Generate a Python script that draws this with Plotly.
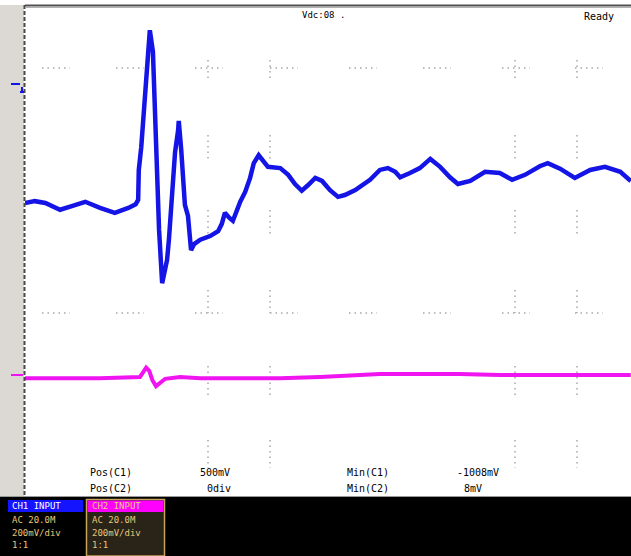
import plotly.graph_objects as go

# ---- data (time in divisions, amplitude in divisions) ----
ch1_t = [0.00, 0.16, 0.33, 0.57, 0.76, 0.98, 1.22, 1.46, 1.68, 1.80, 1.84, 1.85, 1.89, 1.95, 1.98,
         2.03, 2.08, 2.11, 2.15, 2.18, 2.23, 2.26, 2.31, 2.34, 2.37, 2.41, 2.44, 2.49, 2.50, 2.54,
         2.60, 2.65, 2.68, 2.70, 2.75, 2.85, 3.01, 3.14, 3.20, 3.25, 3.32, 3.38, 3.50, 3.58, 3.66,
         3.72, 3.80, 3.87, 3.95, 4.15, 4.28, 4.39, 4.50, 4.60, 4.72, 4.83, 4.96, 5.09, 5.20, 5.37,
         5.61, 5.77, 5.90, 6.02, 6.10, 6.26, 6.42, 6.59, 6.75, 6.91, 7.04, 7.24, 7.48, 7.72, 7.92,
         8.13, 8.37, 8.50, 8.70, 8.94, 9.19, 9.43, 9.68, 9.85]
ch1_v = [0.80, 0.83, 0.80, 0.69, 0.75, 0.82, 0.72, 0.64, 0.72, 0.78, 0.85, 1.34, 1.71, 2.53, 3.00,
         3.62, 3.27, 2.29, 1.53, 0.36, -0.51, -0.38, -0.13, 0.20, 0.65, 1.04, 1.63, 1.99, 2.14, 1.67,
         0.77, 0.59, 0.11, 0.03, 0.13, 0.20, 0.26, 0.34, 0.46, 0.64, 0.56, 0.51, 0.82, 0.98, 1.21,
         1.45, 1.58, 1.50, 1.39, 1.37, 1.26, 1.11, 1.00, 1.09, 1.21, 1.16, 1.01, 0.90, 0.93, 1.01,
         1.18, 1.34, 1.37, 1.31, 1.22, 1.29, 1.37, 1.52, 1.39, 1.22, 1.11, 1.16, 1.31, 1.29, 1.18,
         1.26, 1.40, 1.45, 1.36, 1.21, 1.34, 1.39, 1.31, 1.16]

ch2_t = [0.00, 0.57, 1.22, 1.87, 1.92, 1.97, 2.02, 2.07, 2.13, 2.20, 2.28, 2.52, 2.85, 3.50,
         4.15, 4.80, 5.45, 5.77, 6.42, 7.07, 7.72, 8.37, 9.02, 9.85]
ch2_v = [-2.06, -2.06, -2.06, -2.04, -1.96, -1.89, -1.94, -2.09, -2.19, -2.14, -2.07, -2.04, -2.06,
         -2.06, -2.06, -2.04, -2.01, -1.99, -1.99, -1.99, -2.01, -2.01, -2.02, -2.01]

W, H = 631, 556
L, T, B = 25, 7, 497
PW, PH = W - L, B - T


def px(x):
    return (x - L) / PW


def py(y):
    return (B - y) / PH


fig = go.Figure()
fig.add_trace(go.Scatter(x=ch1_t, y=ch1_v, mode="lines",
                         line=dict(color="#1414e6", width=4.5), hoverinfo="skip"))
fig.add_trace(go.Scatter(x=ch2_t, y=ch2_v, mode="lines",
                         line=dict(color="#f014f0", width=4), hoverinfo="skip"))

shapes = []


def rect(x0, y0, x1, y1, fill, line=None, lw=0, layer="above"):
    shapes.append(dict(type="rect", xref="paper", yref="paper", x0=px(x0), x1=px(x1),
                       y0=py(y1), y1=py(y0), fillcolor=fill,
                       line=dict(color=line or fill, width=lw), layer=layer))


def seg(x0, y0, x1, y1, color, width=1, dash="solid", layer="above"):
    shapes.append(dict(type="line", xref="paper", yref="paper", x0=px(x0), x1=px(x1),
                       y0=py(y0), y1=py(y1), line=dict(color=color, width=width, dash=dash),
                       layer=layer))


# left strip & borders
rect(0, 5, 24, 497, "#dcd8d3", layer="below")
seg(24.5, 5, 24.5, 497, "#4a4a4a", 2, "4px,2px")
seg(25, 5.5, 631, 5.5, "#505050", 2)
seg(25, 7.5, 631, 7.5, "#b0b0b0", 1)
# bottom black bar
rect(0, 497, 631, 556, "#000000")
seg(0, 496.5, 631, 496.5, "#9a9a9a", 1)

# sparse graticule dots
for yy in (68, 313):
    for xs in (42, 116, 195, 270, 349, 423, 502, 575):
        seg(xs, yy, xs + 28, yy, "#a8a8a8", 1.5, "1.5px,4px", layer="below")
for xx in (208, 270, 515, 577):
    for (ya, yb) in ((60, 80), (135, 160), (210, 235), (290, 313), (366, 396), (440, 468)):
        seg(xx, ya, xx, yb, "#a8a8a8", 1.5, "1.5px,4px", layer="below")

# channel ground markers
seg(11, 84, 20, 84, "#1414e6", 2)
seg(22, 87, 22, 93, "#1414e6", 2)
seg(20, 92, 24, 92, "#1414e6", 2)
seg(11, 375, 23, 375, "#f014f0", 2)

# channel boxes
rect(8, 500, 83, 512, "#1414ff")
rect(86.5, 499.5, 164.5, 556, "#2a2318", "#c8a35a", 1.5)
rect(87.5, 500.5, 163.5, 512, "#ff00ff")

ann = []


def txt(x, y, s, color="#000000", size=10, anchor="left"):
    ann.append(dict(xref="paper", yref="paper", x=px(x), y=py(y), text=s, showarrow=False,
                    xanchor=anchor, yanchor="middle",
                    font=dict(family="DejaVu Sans Mono", size=size, color=color)))


txt(300, 15, "Vdc:08 .", size=9)
txt(616, 16, "Ready", size=10, anchor="right")
txt(88, 472, "Pos(C1)")
txt(88, 488, "Pos(C2)")
txt(198, 472, "500mV")
txt(205, 488, "0div")
txt(345, 472, "Min(C1)")
txt(345, 488, "Min(C2)")
txt(455, 472, "-1008mV")
txt(462, 488, "8mV")
txt(10, 506, "CH1 INPUT", "#ffffff", 9)
txt(90, 506, "CH2 INPUT", "#f0d070", 9)
for i, s in enumerate(["AC 20.0M", "200mV/div", "1:1"]):
    txt(10, 520 + 12.5 * i, s, "#e8c878", 9)
    txt(90, 520 + 12.5 * i, s, "#e8c878", 9)

fig.update_layout(
    width=W, height=H, margin=dict(l=L, r=0, t=T, b=H - B),
    paper_bgcolor="#ffffff", plot_bgcolor="#ffffff", showlegend=False,
    xaxis=dict(range=[0, PW / 61.5], visible=False, showgrid=False, zeroline=False, fixedrange=True),
    yaxis=dict(range=[-4, 4], visible=False, showgrid=False, zeroline=False, fixedrange=True),
    shapes=shapes, annotations=ann,
)
fig.write_html("out.html", config={"displayModeBar": False},
               post_script="document.body.style.margin='0';document.body.style.overflow='hidden';")
